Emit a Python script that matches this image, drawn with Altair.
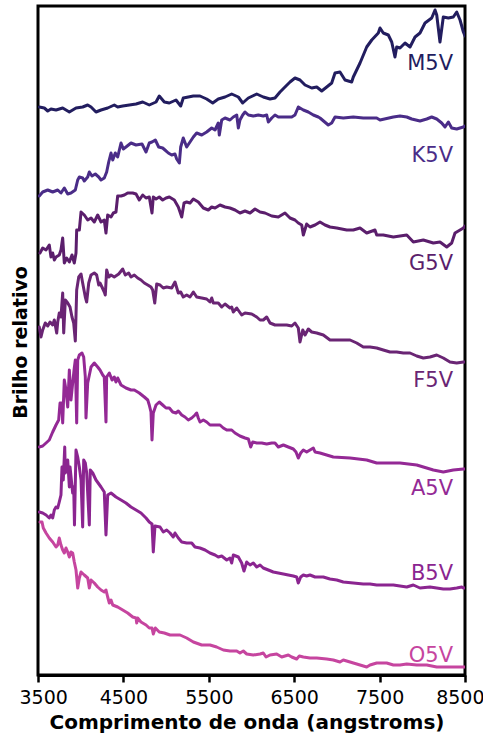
import altair as alt
import pandas as pd

stars = ["M5V", "K5V", "G5V", "F5V", "A5V", "B5V", "O5V"]
colors = ["#221d5f", "#4a2c88", "#5b1e6c", "#6a2574", "#942995", "#8b2590", "#c6459f"]

m5v_wl = [3515,3574,3614,3652,3711,3789,3867,3945,4023,4082,4121,4179,4238,4316,4393,4433,4492,4648,4726,4803,
          4882,4920,4979,5038,5116,5171,5201,5260,5319,5397,5475,5546,5611,5690,5768,5846,5897,5963,6061,6138,
          6217,6275,6334,6392,6451,6509,6568,6627,6705,6764,6822,6881,6939,6978,7036,7095,7173,7192,7271,7349,
          7408,7485,7505,7543,7602,7642,7680,7700,7739,7798,7856,7915,7973,8032,8110,8149,8169,8207,8246,8305,
          8363,8403,8442,8481,8500]
m5v_b = [56.9,56.8,56.5,56.7,56.6,56.8,56.4,56.8,56.9,57.1,56.9,56.4,56.6,56.8,57.1,56.9,57.0,57.2,57.4,57.1,
         57.4,58.0,57.4,57.3,57.6,57.0,57.8,57.9,58.0,58.0,57.7,57.3,57.7,57.9,58.2,57.9,57.3,57.8,58.2,57.9,
         57.7,57.8,58.4,58.9,59.4,59.8,59.6,59.1,58.8,58.9,58.5,58.9,59.3,60.3,60.4,59.6,59.4,59.9,61.3,62.9,
         63.6,64.3,64.8,64.3,64.1,63.4,61.9,62.9,62.8,63.3,62.9,63.9,64.3,65.3,65.8,66.6,66.1,63.4,65.9,65.8,
         65.9,66.4,65.6,64.4,64.0]

k5v_wl = [3515,3555,3614,3672,3731,3769,3808,3848,3886,3937,3965,3984,4023,4042,4082,4101,4132,4171,4211,4238,
          4276,4304,4328,4355,4375,4405,4433,4472,4499,4530,4589,4648,4718,4765,4803,4835,4874,4913,4960,4987,
          5026,5066,5104,5124,5155,5171,5201,5241,5280,5319,5358,5417,5475,5534,5573,5611,5623,5651,5690,5748,
          5787,5827,5846,5865,5897,5924,5963,6021,6080,6138,6178,6197,6237,6275,6314,6392,6471,6509,6548,6607,
          6665,6724,6782,6802,6899,6939,6978,7075,7192,7309,7466,7505,7661,7739,7818,7876,7973,8052,8110,8169,
          8227,8266,8305,8344,8403,8481,8500]
k5v_b = [48.0,48.4,48.6,48.4,48.6,48.3,48.8,48.2,48.3,48.6,49.6,49.9,49.8,49.5,49.9,50.4,50.0,50.2,49.9,49.6,
         49.8,50.4,51.4,52.3,51.6,52.3,51.9,53.3,52.7,52.9,53.3,53.1,53.2,52.4,53.3,53.4,53.6,52.9,52.8,52.6,
         52.3,52.1,52.2,51.7,51.3,52.9,53.8,52.9,53.4,53.9,54.3,54.1,54.4,54.8,54.6,55.3,54.1,55.6,55.8,55.6,
         55.9,56.1,54.8,55.6,56.1,56.4,56.1,56.0,56.1,56.0,56.1,55.4,55.8,56.1,55.9,55.9,55.9,56.1,56.9,56.6,
         56.4,56.1,55.9,55.8,55.1,55.3,55.9,55.8,55.9,55.8,55.8,55.6,55.9,56.0,55.9,55.7,55.5,55.7,55.9,55.7,
         55.3,54.9,55.4,54.8,54.7,54.9,55.0]

g5v_wl = [3523,3555,3594,3632,3652,3672,3691,3711,3749,3769,3789,3808,3836,3867,3898,3925,3945,3953,3984,4004,
          4042,4082,4121,4159,4199,4238,4276,4296,4316,4355,4382,4413,4433,4472,4511,4550,4609,4648,4686,4726,
          4765,4803,4835,4850,4882,4920,4960,4999,5038,5096,5143,5183,5210,5241,5280,5319,5377,5436,5494,5534,
          5573,5631,5690,5748,5807,5865,5924,5983,6041,6100,6158,6237,6314,6392,6451,6509,6548,6588,6607,6646,
          6685,6744,6802,6861,6919,6998,7115,7192,7271,7349,7446,7466,7543,7661,7818,7895,8012,8129,8207,8286,
          8344,8383,8442,8481,8500]
g5v_b = [42.3,42.8,42.6,43.1,41.9,42.3,41.6,41.9,42.1,42.6,43.8,41.3,41.8,41.4,42.1,41.3,42.3,44.6,44.6,46.4,
         46.1,45.6,45.8,45.4,46.1,45.4,45.6,44.3,46.1,45.9,46.3,46.4,48.0,48.0,48.1,48.3,48.3,48.2,47.6,48.1,
         47.8,47.9,46.3,47.9,47.7,47.9,47.6,47.8,47.9,47.6,46.9,45.9,47.3,47.4,47.3,47.7,47.4,46.8,46.6,46.9,
         46.8,47.1,46.9,46.8,46.6,46.3,46.5,46.3,46.7,46.4,46.3,46.0,45.9,46.3,45.8,45.6,45.3,45.1,44.1,45.2,
         44.9,45.1,45.4,45.1,44.9,44.8,44.6,44.6,44.8,44.3,44.6,44.1,44.1,43.9,44.1,43.4,43.6,43.3,43.4,42.9,
         43.3,44.3,44.6,44.8,45.0]

f5v_wl = [3515,3535,3555,3585,3614,3641,3672,3691,3719,3731,3749,3769,3789,3801,3820,3848,3875,3898,3918,3937,
          3953,3977,4004,4023,4054,4070,4094,4121,4159,4187,4211,4226,4249,4276,4288,4304,4328,4355,4393,4445,
          4492,4522,4562,4589,4628,4667,4706,4745,4785,4823,4843,4867,4890,4929,4967,5007,5066,5104,5143,5171,
          5201,5241,5280,5319,5358,5417,5475,5514,5534,5553,5611,5651,5690,5748,5768,5787,5827,5885,5924,6002,
          6061,6100,6138,6178,6217,6275,6334,6412,6471,6509,6548,6568,6600,6627,6665,6705,6764,6841,6919,6998,
          7075,7154,7232,7309,7388,7466,7543,7622,7700,7778,7856,7935,8012,8090,8169,8246,8324,8403,8481,8500]
f5v_b = [34.9,33.9,34.6,35.3,35.0,35.4,35.1,35.6,34.3,35.4,36.3,35.9,38.3,34.3,37.6,37.3,36.9,35.9,35.3,33.5,
         38.6,39.9,40.2,39.3,37.9,37.4,39.3,40.1,40.3,40.1,39.1,39.3,38.9,38.4,38.1,40.6,39.9,40.1,39.9,40.2,
         40.7,40.1,40.3,39.9,40.1,39.8,39.6,39.3,39.1,38.9,38.6,37.3,39.2,39.1,38.8,38.9,38.8,39.4,38.3,38.4,
         37.9,38.1,37.9,38.4,37.9,37.8,37.7,37.4,37.8,37.3,37.3,36.9,37.2,36.8,36.9,36.4,36.8,36.1,36.3,36.2,
         35.9,35.6,35.6,35.9,35.3,35.1,35.1,35.1,35.0,35.3,34.8,33.4,34.6,34.1,34.7,34.4,34.3,34.1,33.6,33.6,
         33.6,33.6,33.3,32.9,32.9,32.8,32.6,32.4,32.4,32.3,32.3,32.0,31.8,31.9,32.1,31.8,31.4,31.3,31.4,31.4]

a5v_wl = [3515,3555,3594,3632,3672,3711,3742,3758,3778,3789,3808,3828,3848,3867,3886,3906,3925,3937,3953,3965,
          3984,4015,4035,4054,4062,4082,4121,4159,4199,4226,4258,4276,4296,4304,4335,4367,4393,4413,4433,4472,
          4530,4589,4628,4686,4745,4785,4803,4823,4835,4850,4882,4920,4960,4999,5038,5077,5116,5143,5183,5221,
          5260,5300,5338,5358,5377,5397,5436,5475,5514,5573,5631,5670,5710,5768,5807,5865,5924,5963,5991,6014,
          6061,6120,6178,6237,6275,6314,6373,6431,6490,6521,6548,6576,6607,6646,6685,6724,6744,6802,6958,7154,
          7349,7466,7543,7739,7935,8129,8246,8363,8481,8500]
a5v_b = [22.9,23.0,23.3,23.6,24.4,25.1,25.6,27.3,27.3,25.3,29.6,28.6,26.9,30.6,27.6,29.3,30.8,31.6,25.3,31.6,
         32.1,32.3,31.9,29.9,25.8,29.3,30.9,31.3,30.9,30.6,30.1,29.9,25.4,29.9,30.3,29.6,29.9,29.4,29.8,29.1,
         28.8,28.6,28.6,28.3,27.9,27.6,27.1,26.4,23.6,26.3,27.1,27.4,27.1,26.8,26.8,26.4,26.3,26.5,26.1,25.9,
         25.6,25.8,26.1,26.3,25.8,25.4,25.6,25.4,25.1,25.1,25.1,24.8,24.6,24.6,24.3,24.0,23.8,23.7,22.9,23.4,
         23.3,23.3,23.2,23.3,23.3,22.9,23.1,22.9,22.7,22.4,21.8,22.3,22.6,22.4,22.6,22.8,22.4,22.3,21.9,21.8,
         21.6,21.3,21.3,21.3,21.1,20.6,20.4,20.6,20.7,20.7]

b5v_wl = [3515,3555,3594,3632,3652,3672,3691,3711,3731,3749,3769,3781,3796,3813,3820,3836,3848,3867,3875,3906,
          3918,3927,3945,3965,3984,4004,4023,4035,4054,4070,4101,4112,4141,4179,4238,4276,4296,4316,4355,4413,
          4472,4530,4589,4648,4706,4765,4803,4835,4850,4870,4929,4967,5007,5046,5084,5104,5143,5183,5241,5300,
          5338,5397,5456,5514,5573,5611,5651,5710,5748,5768,5787,5846,5885,5912,5944,5983,6021,6061,6100,6138,
          6197,6255,6314,6373,6431,6490,6529,6548,6576,6607,6646,6685,6744,6841,6919,6998,7075,7192,7309,7388,
          7466,7543,7661,7739,7818,7895,7973,8090,8169,8246,8324,8403,8462,8481,8500]
b5v_b = [16.4,16.3,16.1,15.8,16.1,15.8,16.6,16.9,16.8,17.4,18.1,20.9,19.6,22.9,20.3,20.6,21.6,18.9,20.9,18.3,
         18.9,15.1,22.6,21.9,20.9,19.6,14.9,21.6,21.3,20.3,15.1,20.6,20.3,19.6,18.9,18.4,14.1,18.1,18.3,17.9,
         17.6,17.3,16.9,16.6,16.3,15.8,15.4,15.2,12.4,15.0,14.9,14.4,14.6,14.3,13.9,14.3,13.8,13.4,13.3,13.3,
         12.9,12.8,12.6,12.3,12.1,11.9,12.0,11.6,11.8,11.3,12.1,11.9,11.3,10.5,11.4,11.1,11.3,10.9,11.1,10.8,
         10.6,10.4,10.3,10.2,10.1,10.0,9.9,9.3,9.9,10.1,10.0,10.1,9.9,9.9,9.7,9.6,9.4,9.3,9.2,9.2,
         9.1,9.1,9.1,9.0,8.9,9.1,8.8,8.9,8.8,8.7,8.7,8.8,8.9,8.8,8.8]

o5v_wl = [3523,3547,3562,3594,3632,3672,3711,3731,3749,3769,3789,3808,3828,3848,3867,3886,3906,3925,3945,3965,
          3984,4004,4042,4082,4101,4121,4159,4199,4238,4276,4296,4316,4335,4355,4375,4433,4492,4550,4609,4648,
          4656,4667,4706,4765,4803,4835,4850,4874,4920,4979,5046,5163,5241,5319,5417,5514,5592,5670,5748,5827,
          5865,5904,5944,6021,6100,6138,6170,6217,6295,6354,6392,6431,6471,6529,6560,6607,6685,6764,6881,6958,
          7036,7075,7154,7271,7349,7388,7466,7583,7661,7739,7818,7935,8052,8169,8324,8481,8500]
o5v_b = [15.4,15.4,14.8,14.3,13.8,13.4,12.9,13.1,13.8,13.1,12.6,12.3,12.8,12.4,11.9,12.4,12.3,11.4,10.6,8.8,
         9.8,10.4,10.1,9.8,8.8,9.6,9.3,8.9,8.6,8.4,8.6,7.9,7.3,7.6,7.1,6.9,6.6,6.3,5.9,5.8,
         5.3,5.8,5.4,5.1,4.8,4.8,4.2,4.8,4.4,4.3,4.1,4.1,3.8,3.4,3.1,3.1,2.9,2.6,2.5,2.5,
         2.3,2.5,2.2,2.1,2.2,2.3,1.9,2.1,2.2,1.9,2.0,2.1,1.9,1.7,2.0,1.9,1.8,1.8,1.7,1.6,
         1.4,1.6,1.4,1.1,0.9,1.1,1.3,1.3,1.1,1.1,1.2,1.1,1.1,0.9,0.9,0.9,0.9]

label_wl = 8360
label_b = [60.6, 51.4, 40.6, 28.9, 18.1, 9.6, 1.4]
x_ticks = [3500, 4500, 5500, 6500, 7500, 8500]

series = {
    "M5V": (m5v_wl, m5v_b), "K5V": (k5v_wl, k5v_b), "G5V": (g5v_wl, g5v_b),
    "F5V": (f5v_wl, f5v_b), "A5V": (a5v_wl, a5v_b), "B5V": (b5v_wl, b5v_b),
    "O5V": (o5v_wl, o5v_b),
}
rows = []
for s in stars:
    wl, bv = series[s]
    for w, v in zip(wl, bv):
        rows.append({"star": s, "wl": w, "b": v})
df = pd.DataFrame(rows)
labels = pd.DataFrame({"star": stars, "wl": [label_wl] * len(stars), "b": label_b})

FONT = "DejaVu Sans"

x_enc = alt.X(
    "wl:Q",
    scale=alt.Scale(domain=[3500, 8500], nice=False, zero=False),
    axis=alt.Axis(
        values=x_ticks, format="d", grid=False,
        domainColor="black", domainWidth=3,
        tickColor="black", tickWidth=2.5, tickSize=7,
        labelFont=FONT, labelFontSize=19, labelColor="black",
        labelPadding=21, labelBaseline="alphabetic",
        labelFlush=True, labelFlushOffset=19,
        title="Comprimento de onda (angstroms)",
        titleFont=FONT, titleFontSize=20, titleFontWeight="bold", titleColor="black",
        titleX=208.5, titleY=53.6, titleBaseline="alphabetic", titleAlign="center",
    ),
)
y_enc = alt.Y(
    "b:Q",
    scale=alt.Scale(domain=[0.1, 67.0], nice=False, zero=False),
    axis=alt.Axis(
        labels=False, ticks=False, domain=False, grid=False,
        title="Brilho relativo",
        titleFont=FONT, titleFontSize=19, titleFontWeight="bold", titleColor="black",
        titleAngle=270, titleX=-12, titleY=336, titleAlign="center", titleBaseline="alphabetic",
    ),
)
color_enc = alt.Color("star:N", scale=alt.Scale(domain=stars, range=colors), legend=None)

lines = alt.Chart(df).mark_line(
    strokeWidth=3, strokeJoin="round", strokeCap="round", clip=True
).encode(x=x_enc, y=y_enc, color=color_enc, detail="star:N")

text = alt.Chart(labels).mark_text(
    align="right", baseline="alphabetic", font=FONT, fontSize=21
).encode(x="wl:Q", y="b:Q", text="star:N", color=color_enc)

chart = alt.layer(lines, text).properties(
    width=427, height=669,
    autosize=alt.AutoSizeParams(type="none"),
    padding={"left": 38, "top": 6, "right": 18, "bottom": 60},
    background="white",
).configure_view(stroke="black", strokeWidth=3)

chart.save("out.html", embed_options={"renderer": "svg", "actions": False})
